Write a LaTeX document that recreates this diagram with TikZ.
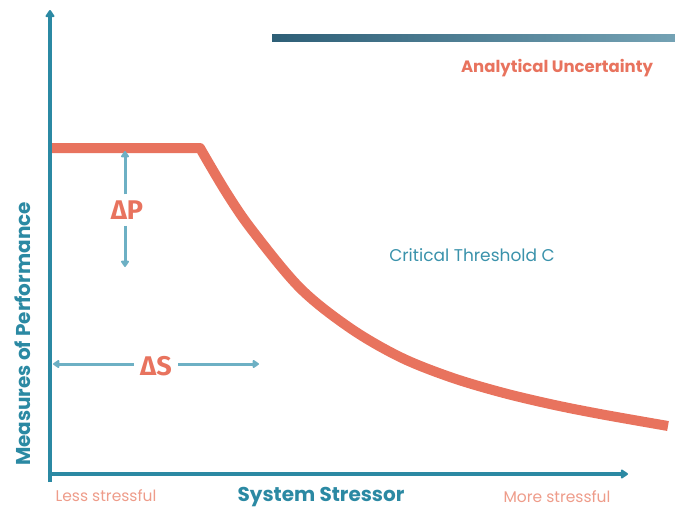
\documentclass[tikz,border=0pt]{standalone}
\usepackage{fontspec}
\setmainfont{Poppins}
\newfontfamily\greekfont{Fira Sans}
\usetikzlibrary{arrows.meta}
\definecolor{curvered}{HTML}{E8735E}
\definecolor{softred}{HTML}{EE9C8A}
\definecolor{axisteal}{HTML}{2B89A3}
\definecolor{paleteal}{HTML}{6DB0C4}
\definecolor{textteal}{HTML}{3A92AB}
\definecolor{bandleft}{HTML}{2E5F77}
\definecolor{bandright}{HTML}{74A2B4}
\tikzset{
  axis/.style={line width=3.5pt, draw=axisteal, -{Triangle[round,length=8pt,width=10pt]}},
  halfarrow/.style={line width=3pt, draw=paleteal, -{Triangle[round,length=7pt,width=9pt]}},
  deltalabel/.style={text=curvered, font=\greekfont\bfseries\fontsize{27}{27}\selectfont, inner sep=0pt},
  perf/.style={draw=curvered, line width=10pt, line join=round},
  endlabel/.style={text=softred, font=\fontsize{15.5}{15.5}\selectfont, inner sep=0pt},
}
\begin{document}
\begin{tikzpicture}[x=1pt, y=-1pt]
  \useasboundingbox (0,0) rectangle (675,517);

  % uncertainty band along the top
  \shade[left color=bandleft, right color=bandright] (272,34) rectangle (675,41);
  \node[text=curvered, font=\bfseries\fontsize{16.5}{16.5}\selectfont, inner sep=0pt] (unc) at (557,68) {Analytical Uncertainty};

  % axes
  \coordinate (origin) at (50,474);
  \coordinate (ytop) at (50,10);
  \coordinate (xend) at (628,474);
  \draw[axis] (50,482) -- (ytop);
  \draw[axis] (48,474) -- (xend);

  % performance curve
  \draw[perf] (52,148) -- (200,148) -- plot[smooth, tension=0.55] coordinates
    {(200,148) (226,192) (252,230) (300,288) (350,328) (400,357) (450,377) (500,392) (550,404) (600,414) (668,426)};

  % delta P
  \node[deltalabel] (dp) at (127,210) {ΔP};
  \coordinate (dptop) at (125,151);
  \coordinate (dpbot) at (125,267);
  \draw[halfarrow] (dp.north) ++(-2,-6) -- (dptop);
  \draw[halfarrow] (dp.south) ++(-2,6) -- (dpbot);

  % delta S
  \node[deltalabel] (ds) at (156,366) {ΔS};
  \coordinate (dsleft) at (53,364);
  \coordinate (dsright) at (259,364);
  \draw[halfarrow] (ds.west |- dsleft) ++(-6,0) -- (dsleft);
  \draw[halfarrow] (ds.east |- dsright) ++(6,0) -- (dsright);

  % labels
  \node[text=textteal, font=\fontsize{17}{17}\selectfont, inner sep=0pt] (crit) at (472,255) {Critical Threshold C};
  \node[endlabel] (less) at (106,496) {Less stressful};
  \node[endlabel] (more) at (557,497) {More stressful};
  \node[text=axisteal, font=\bfseries\fontsize{20}{20}\selectfont, inner sep=0pt] (xlab) at (321,497) {System Stressor};
  \node[text=axisteal, font=\bfseries\fontsize{20}{20}\selectfont, inner sep=0pt, rotate=90] (ylab) at (23,334) {Measures of Performance};
\end{tikzpicture}
\end{document}
